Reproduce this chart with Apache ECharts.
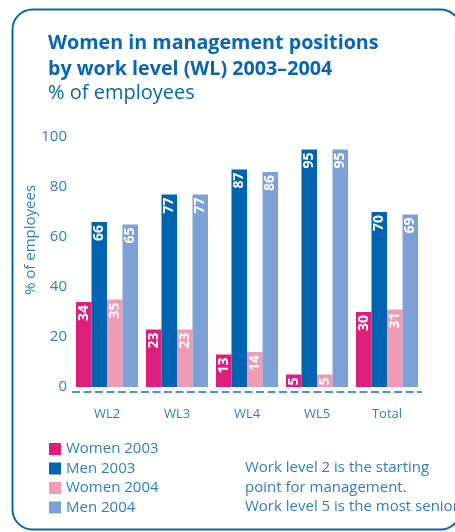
<!DOCTYPE html>
<html>
<head>
<meta charset="utf-8">
<script src="https://cdn.jsdelivr.net/npm/echarts@6/dist/echarts.min.js"></script>
<style>
html,body{margin:0;padding:0;background:#fff;}
#chart{width:455px;height:532px;}
</style>
</head>
<body>
<div id="chart"></div>
<script>
var categories = ['WL2', 'WL3', 'WL4', 'WL5', 'Total'];
var women2003 = [34, 23, 13, 5, 30];
var men2003 = [66, 77, 87, 95, 70];
var women2004 = [35, 23, 14, 5, 31];
var men2004 = [65, 77, 86, 95, 69];
var yTicks = [0, 20, 40, 60, 80, 100];

var FONT = '"Open Sans", "Noto Sans", sans-serif';
var TXT = '#2f80c3';
var colors = ['#dd1e7a', '#0064b0', '#ee9bb3', '#7da1d4'];

function barSeries(name, data, color) {
  return {
    name: name,
    type: 'bar',
    data: data,
    barWidth: 15.5,
    barGap: '0%',
    itemStyle: { color: color },
    label: {
      show: true,
      position: 'insideTop',
      rotate: 90,
      align: 'right',
      verticalAlign: 'middle',
      distance: 3,
      color: '#ffffff',
      fontFamily: FONT,
      fontWeight: 'bold',
      fontSize: 14
    }
  };
}

var chart = echarts.init(document.getElementById('chart'), null, { renderer: 'canvas' });
chart.setOption({
  animation: false,
  color: colors,
  title: {
    left: 48,
    top: 30,
    padding: 0,
    text: 'Women in management positions\nby work level (WL) 2003\u20132004',
    subtext: '% of employees',
    itemGap: 0,
    textStyle: { fontFamily: FONT, fontWeight: 'bold', fontSize: 19.7, lineHeight: 26, color: '#0a66b0' },
    subtextStyle: { fontFamily: FONT, fontWeight: 'normal', fontSize: 20, lineHeight: 22, color: '#0a66b0' }
  },
  legend: {
    orient: 'vertical',
    left: 49,
    top: 441,
    padding: 0,
    itemWidth: 12,
    itemHeight: 12,
    itemGap: 3.5,
    icon: 'rect',
    textStyle: { fontFamily: FONT, fontSize: 15, color: TXT, lineHeight: 16 },
    data: ['Women 2003', 'Men 2003', 'Women 2004', 'Men 2004']
  },
  grid: { left: 72, top: 137, width: 350, height: 250, containLabel: false },
  xAxis: {
    type: 'category',
    data: categories,
    offset: 5,
    axisLine: { show: false },
    axisTick: { show: false },
    axisLabel: { color: TXT, fontFamily: FONT, fontSize: 13, margin: 16 }
  },
  yAxis: {
    type: 'value',
    min: 0,
    max: 100,
    interval: 20,
    axisLine: { show: false },
    axisTick: { show: false },
    splitLine: { show: false },
    axisLabel: {
      color: TXT, fontFamily: FONT, fontSize: 15, margin: 5,
      formatter: function (v) { return yTicks.indexOf(v) >= 0 ? String(v) : ''; }
    }
  },
  graphic: [
    {
      type: 'rect',
      silent: true,
      shape: { x: 12.5, y: 9.5, width: 448, height: 520, r: 20 },
      style: { fill: 'none', stroke: '#0a66b0', lineWidth: 2 },
      z: -1
    },
    {
      type: 'text',
      x: 31, y: 240,
      rotation: Math.PI / 2,
      style: {
        text: '% of employees',
        fontFamily: FONT, fontSize: 15, fill: TXT,
        align: 'center', verticalAlign: 'middle'
      }
    },
    {
      type: 'text',
      left: 245, top: 458,
      style: {
        text: 'Work level 2 is the starting\npoint for management.\nWork level 5 is the most senior.',
        fontFamily: FONT, fontSize: 15, lineHeight: 19.5, fill: TXT
      }
    }
  ],
  series: [
    barSeries('Women 2003', women2003, colors[0]),
    barSeries('Men 2003', men2003, colors[1]),
    barSeries('Women 2004', women2004, colors[2]),
    barSeries('Men 2004', men2004, colors[3])
  ]
});

// Dashed baseline: placed from the grid's own coordinate system, 5px below zero.
var gridRect = chart.getModel().getComponent('grid').coordinateSystem.getRect();
var baseY = chart.convertToPixel({ yAxisIndex: 0 }, 0) + 5;
chart.setOption({
  graphic: [
    {
      id: 'baseline',
      type: 'line',
      silent: true,
      shape: { x1: gridRect.x, y1: baseY, x2: gridRect.x + gridRect.width, y2: baseY },
      style: { stroke: '#4a94d2', lineWidth: 2, lineDash: [8, 3.5], lineCap: 'butt' }
    }
  ]
});
</script>
</body>
</html>
